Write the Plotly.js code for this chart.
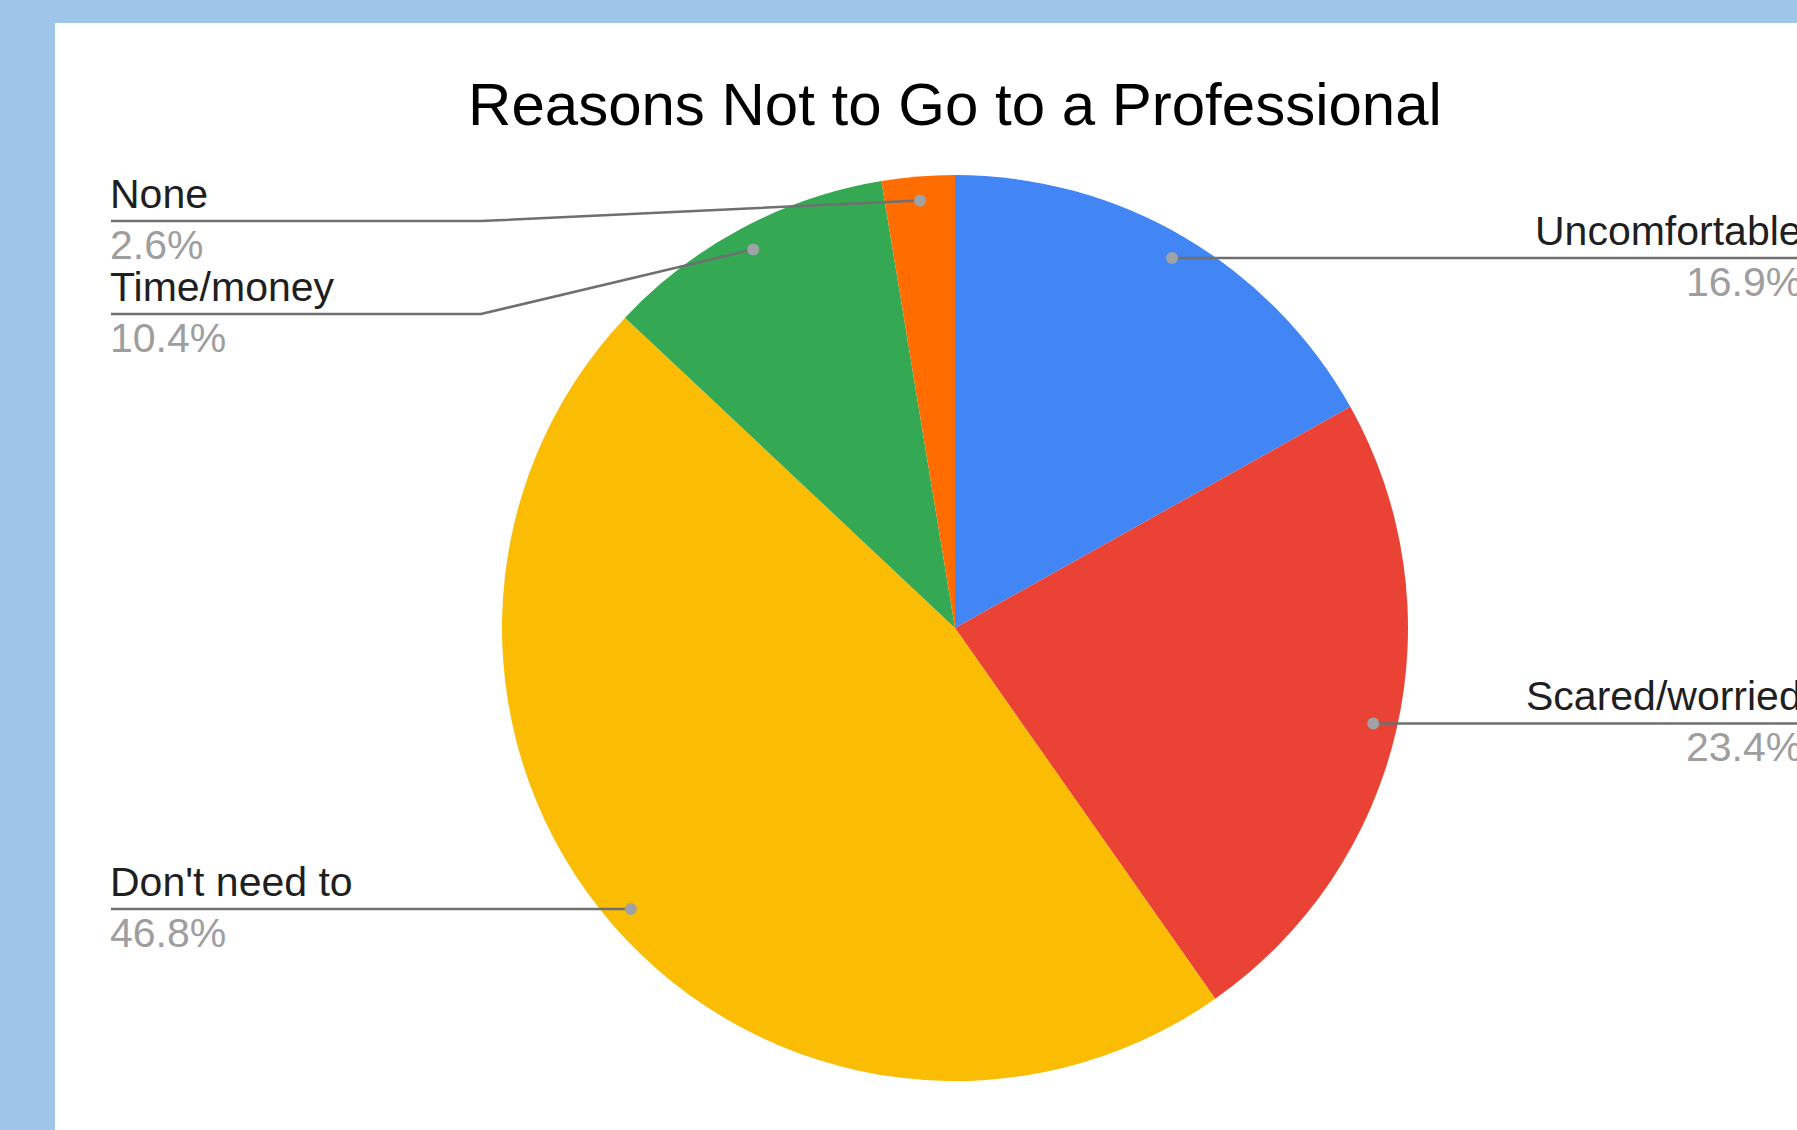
<!DOCTYPE html>
<html>
<head>
<meta charset="utf-8">
<script src="https://cdn.plot.ly/plotly-3.0.1.min.js"></script>
<style>
  html, body { margin: 0; padding: 0; background: #9fc5e8; }
  #chart { width: 1797px; height: 1130px; }
</style>
</head>
<body>
<div id="chart"></div>
<script>
// ---- data ----
const chartTitle = "Reasons Not to Go to a Professional";
const categories = ["Uncomfortable", "Scared/worried", "Don't need to", "Time/money", "None"];
const counts = [13, 18, 36, 8, 2];
const sliceColors = ["#4285f4", "#ea4335", "#fbbc04", "#34a853", "#ff6d01"];

// ---- layout geometry (pixels) ----
const W = 1797, H = 1130;
const cx = 955, cy = 628, R = 453;
const FONT = "Liberation Sans, Arial, Helvetica, sans-serif";
const px = x => x / W;
const py = y => 1 - y / H;

const total = counts.reduce((a, b) => a + b, 0);
const pctText = counts.map(c => (c / total * 100).toFixed(1) + "%");

// anchor dots on each slice (mid-angle, near the rim)
let cum = 0;
const anchors = counts.map(c => {
  const th = 2 * Math.PI * (cum + c / 2) / total;
  cum += c;
  return { x: cx + 0.947 * R * Math.sin(th), y: cy - 0.947 * R * Math.cos(th), right: Math.sin(th) >= 0 };
});

// label placement (avoid overlaps)
const lineX = 111, textX = 108, kinkX = 481, rightX = 1804, blockH = 93, topLimit = 221;
const labelY = new Array(counts.length);
function place(side) {
  const idx = anchors.map((a, i) => i).filter(i => anchors[i].right === side)
    .sort((a, b) => anchors[a].y - anchors[b].y);
  let prev = -Infinity;
  idx.forEach(i => {
    const L = Math.max(anchors[i].y, prev + blockH, topLimit);
    labelY[i] = L; prev = L;
  });
}
place(true); place(false);

const shapes = [{
  type: "rect", xref: "paper", yref: "paper", layer: "below",
  x0: px(55), x1: 1.01, y0: -0.01, y1: py(23),
  fillcolor: "#ffffff", line: { width: 0 }
}];
const annotations = [];

categories.forEach((name, i) => {
  const a = anchors[i], L = labelY[i];
  let path;
  if (a.right) {
    path = `M ${px(a.x)},${py(a.y)} L ${px(W + 5)},${py(L)}`;
  } else if (Math.abs(L - a.y) < 1) {
    path = `M ${px(lineX)},${py(L)} L ${px(a.x)},${py(a.y)}`;
  } else {
    path = `M ${px(lineX)},${py(L)} L ${px(kinkX)},${py(L)} L ${px(a.x)},${py(a.y)}`;
  }
  shapes.push({ type: "path", xref: "paper", yref: "paper", layer: "above", path: path,
    line: { color: "#6f6f6f", width: 2.5 } });
  shapes.push({ type: "circle", xref: "paper", yref: "paper", layer: "above",
    x0: px(a.x - 6), x1: px(a.x + 6), y0: py(a.y + 6), y1: py(a.y - 6),
    fillcolor: "#9ea3a8", line: { width: 0 } });
  const tx = a.right ? px(rightX) : px(textX);
  const anchor = a.right ? "right" : "left";
  annotations.push({ xref: "paper", yref: "paper", x: tx, y: py(L - 27), xanchor: anchor, yanchor: "middle",
    text: name, showarrow: false, font: { family: FONT, size: 41, color: "#1f1f1f" } });
  annotations.push({ xref: "paper", yref: "paper", x: tx, y: py(L + 24), xanchor: anchor, yanchor: "middle",
    text: pctText[i], showarrow: false, font: { family: FONT, size: 41, color: "#9e9e9e" } });
});

const trace = {
  type: "pie",
  labels: categories,
  values: counts,
  sort: false,
  direction: "clockwise",
  rotation: 0,
  marker: { colors: sliceColors, line: { width: 0 } },
  textinfo: "none",
  hoverinfo: "label+percent",
  showlegend: false,
  domain: { x: [px(cx - R), px(cx + R)], y: [py(cy + R), py(cy - R)] }
};

const layout = {
  width: W, height: H,
  margin: { l: 0, r: 0, t: 0, b: 0 },
  paper_bgcolor: "#9fc5e8",
  title: { text: chartTitle, xref: "paper", yref: "paper", x: px(955), y: py(104),
    xanchor: "center", yanchor: "middle", font: { family: FONT, size: 60, color: "#000000" } },
  shapes: shapes,
  annotations: annotations,
  showlegend: false
};

Plotly.newPlot("chart", [trace], layout, { displayModeBar: false, staticPlot: true });
</script>
</body>
</html>
